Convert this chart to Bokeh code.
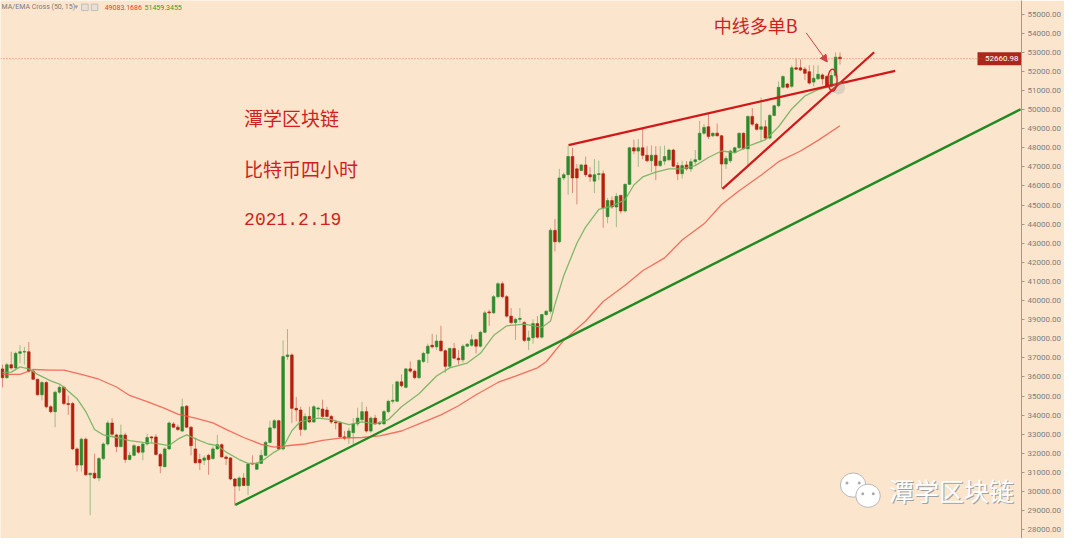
from bokeh.plotting import figure
from bokeh.models import (Range1d, FixedTicker, NumeralTickFormatter, Label, Span,
                          Arrow, NormalHead, ColumnDataSource)
from bokeh.embed import file_html
from bokeh.resources import INLINE

# ---------------- data (BTC 4h candles) ----------------
opens = [36420, 35962, 36640, 36471, 37234, 37300, 37318, 36301, 35878, 35064,
         35708, 34437, 34183, 35200, 35454, 34606, 34606, 32233, 31386, 32742,
         30877, 30962, 30708, 31725, 32488, 33589, 32962, 32352, 32962, 31674,
         31894, 32352, 32064, 32488, 32860, 32860, 31945, 31301, 32233, 33538,
         33369, 33166, 34471, 33369, 32233, 31674, 31640, 31894, 31725, 32233,
         32454, 31810, 31759, 30657, 30284, 30708, 30318, 31471, 31166, 31471,
         31894, 32572, 33335, 33708, 32233, 37067, 37151, 34355, 34270, 33253,
         33931, 33643, 34321, 34321, 34270, 33931, 33643, 33592, 32863, 32829,
         33084, 33541, 33761, 34185, 33168, 33846, 33541, 33541, 34185, 34727,
         34727, 35744, 35456, 36422, 36304, 35965, 36812, 37236, 37660, 37575,
         37880, 37372, 36558, 37490, 36982, 36897, 37609, 37660, 37948, 37609,
         38338, 39405, 39354, 40201, 40879, 40201, 39184, 38845, 39015, 38845,
         37913, 38049, 38794, 38082, 39269, 39438, 43675, 43081, 46420, 46590,
         47539, 46895, 46810, 47098, 46590, 46251, 46600, 46641, 44386, 45234,
         44895, 45505, 44692, 46082, 47997, 47827, 47997, 47607, 47319, 47607,
         47064, 47300, 47370, 47878, 47064, 46641, 47098, 46895, 47268, 47370,
         48760, 49099, 48624, 48760, 48624, 47148, 47317, 47742, 47996, 48758,
         47945, 49640, 49233, 48962, 49097, 48504, 49691, 50199, 51165, 51335,
         51216, 52182, 52182, 52115, 51979, 51437, 51606, 51810, 51725, 51216,
         51776, 52742]
highs = [36640, 36725, 37318, 37318, 37657, 37572, 37827, 36386, 35911, 35793,
         35793, 34522, 35284, 35572, 35539, 35030, 34691, 32318, 32826, 32826,
         30962, 31979, 31810, 32572, 33708, 33844, 33030, 33505, 33081, 32064,
         32488, 32403, 32572, 33030, 32911, 32996, 32013, 32318, 33674, 33640,
         33505, 34861, 34522, 33420, 32826, 31979, 31894, 31979, 32352, 32962,
         32521, 31894, 31810, 30708, 30793, 30962, 31504, 31894, 31555, 32182,
         32657, 33708, 33793, 33759, 37914, 38507, 37236, 34948, 34439, 34100,
         34439, 34524, 34439, 34812, 34439, 34016, 33761, 33677, 33168, 33338,
         33846, 34388, 34693, 34439, 33931, 34016, 33677, 34270, 34812, 35626,
         35795, 36134, 36473, 36812, 36389, 36931, 37321, 37744, 38253, 38219,
         38677, 37439, 37541, 37778, 37405, 37711, 37780, 38219, 38009, 38423,
         39472, 39523, 40286, 40964, 41000, 40286, 39608, 39099, 39608, 38930,
         38422, 39015, 39184, 39300, 39500, 43800, 44268, 46895, 46700, 48082,
         47997, 47149, 47150, 47539, 46980, 47404, 47319, 46810, 45369, 45454,
         45624, 45539, 46132, 48046, 48420, 48454, 49014, 48082, 48116, 48082,
         48082, 48116, 47950, 47946, 47234, 47319, 47300, 47438, 47880, 49404,
         49234, 49777, 48800, 49268, 48675, 47572, 47900, 48050, 48800, 48800,
         49691, 50081, 49300, 50623, 49436, 49775, 50250, 51470, 51800, 51400,
         52318, 52657, 52623, 52233, 52318, 52318, 52318, 51894, 51800, 51979,
         52996, 52996]
lows = [35454, 35911, 36386, 36420, 36725, 36640, 36217, 35850, 35030, 34776,
        34352, 34098, 33369, 35115, 34522, 34013, 32182, 31047, 31047, 30826,
        28759, 30657, 30538, 31640, 32403, 32911, 32064, 32318, 31504, 31640,
        31844, 31979, 31640, 32403, 32572, 31894, 30962, 31267, 32182, 33335,
        33166, 33115, 33335, 31894, 31471, 31132, 31386, 30877, 31674, 32182,
        31776, 31386, 30589, 29267, 30030, 30284, 29809, 31386, 31132, 31437,
        31844, 32521, 33250, 32182, 32149, 36900, 33592, 33677, 32914, 33168,
        33592, 33592, 33931, 33846, 33880, 33541, 33253, 32829, 32693, 32490,
        32490, 33422, 33677, 33084, 33084, 33507, 33480, 33507, 34100, 34609,
        34693, 35456, 35405, 36219, 35880, 35880, 36728, 36728, 37490, 37405,
        37321, 36219, 36473, 36931, 36643, 36745, 37560, 37575, 37236, 37541,
        38286, 38676, 39300, 40117, 40117, 39099, 38761, 37947, 38845, 37828,
        37404, 37743, 37998, 37998, 39200, 39300, 42573, 42997, 46300, 45539,
        45624, 45031, 46750, 46471, 46217, 45624, 46302, 43810, 44047, 44800,
        43844, 44556, 44607, 46048, 47658, 47000, 47400, 47234, 46725, 46302,
        47000, 47100, 47300, 46980, 46302, 46386, 46800, 46725, 47100, 47319,
        48675, 48454, 48550, 48590, 45877, 46894, 47200, 47700, 47950, 47900,
        47064, 49131, 48900, 48300, 48419, 48419, 49650, 50115, 51100, 51100,
        51132, 52064, 52013, 51555, 51301, 51216, 51555, 51301, 51150, 51132,
        51640, 52352]
closes = [35962, 36640, 36471, 37234, 37318, 37330, 36301, 35878, 35064, 35708,
          34437, 34183, 35200, 35454, 34606, 34555, 32233, 31386, 32742, 30877,
          30962, 30708, 31725, 32488, 33589, 33000, 32352, 32962, 31674, 31894,
          32403, 32064, 32488, 32826, 32809, 31945, 31335, 32233, 33589, 33369,
          33250, 34437, 33369, 32403, 31504, 31504, 31759, 31674, 32233, 32454,
          31810, 31725, 30657, 30284, 30708, 30318, 31437, 31437, 31471, 31894,
          32572, 33335, 33708, 32233, 37067, 37151, 34355, 34270, 33253, 33931,
          33643, 34439, 34370, 33931, 33931, 33643, 33592, 32863, 32795, 33168,
          33541, 33846, 34185, 33168, 33846, 33541, 33592, 34185, 34727, 34778,
          35744, 35541, 36422, 36304, 35965, 36863, 37236, 37609, 37575, 37880,
          37372, 36558, 37490, 36982, 36897, 37609, 37711, 37948, 37609, 38338,
          39354, 39354, 40201, 40879, 40201, 39184, 38845, 39015, 39066, 37913,
          38049, 38794, 38082, 39269, 39438, 43675, 43081, 46420, 46590, 47539,
          46420, 46420, 47098, 46590, 46471, 46590, 46641, 44861, 45234, 44895,
          45454, 44692, 46082, 47997, 47827, 47997, 47600, 47319, 47607, 47064,
          47300, 47539, 47878, 47031, 46641, 47064, 46895, 47268, 47370, 48760,
          49065, 48590, 48760, 48624, 47148, 47436, 47826, 47996, 48758, 47945,
          49640, 49233, 48962, 49097, 48504, 49691, 50199, 51165, 51725, 51165,
          52182, 52115, 52064, 51894, 51386, 51640, 51843, 51606, 51216, 51776,
          52742, 52661]

# moving averages (candle index, price)
ma50_idx = [0, 4, 7, 11, 14, 18, 22, 26, 29, 33, 37, 40, 44, 48, 51, 55, 59, 62, 66, 69,
            73, 77, 82, 86, 91, 95, 100, 104, 108, 113, 117, 122, 124, 128, 133, 137, 142,
            146, 151, 155, 160, 164, 168, 173, 177, 182, 186, 191]
ma50 = [36134, 36134, 36389, 36353, 36353, 36134, 35880, 35474, 35031, 34711, 34355,
        34050, 33847, 33592, 33252, 32830, 32474, 32321, 32423, 32489, 32677, 32794,
        32830, 32916, 33170, 33542, 34014, 34492, 35067, 35712, 36048, 36475, 36795,
        37914, 38931, 39947, 40797, 41559, 42235, 43166, 44015, 45031, 45743, 46557,
        47269, 47828, 48387, 49149]
ema15_idx = [0, 2, 4, 6, 8, 11, 13, 14, 17, 19, 21, 23, 26, 29, 32, 35, 38, 40, 42, 45,
             47, 49, 51, 54, 56, 58, 60, 62, 64, 66, 68, 72, 75, 79, 82, 85, 88, 91, 95, 99,
             102, 106, 109, 112, 115, 119, 123, 125, 126, 128, 131, 133, 136, 139, 142, 144,
             146, 149, 152, 155, 158, 161, 164, 167, 171, 174, 177, 180, 183, 186, 189, 191]
ema15 = [36221, 36251, 36526, 36424, 36134, 35794, 35626, 35458, 34863, 34187, 33252,
         32967, 32830, 32662, 32576, 32525, 32408, 32743, 32967, 32662, 32489, 32408,
         32067, 31676, 31472, 31472, 31727, 32067, 32321, 33186, 33679, 33847, 33760,
         33506, 33643, 33542, 33760, 34441, 35118, 36048, 36475, 36729, 37238, 38168,
         38676, 38763, 38590, 38931, 39800, 41300, 43000, 43847, 44777, 44945, 45286,
         46048, 46470, 46724, 46897, 46897, 47065, 47487, 47828, 47741, 48168, 48422,
         49099, 50029, 50710, 51046, 51219, 51437]
ma50_last = 49083.1686
ema15_last = 51459.3455
last_price = 52660.98

price_ticks = [28000, 29000, 30000, 31000, 32000, 33000, 34000, 35000, 36000, 37000,
               38000, 39000, 40000, 41000, 42000, 43000, 44000, 45000, 46000, 47000,
               48000, 49000, 50000, 51000, 52000, 53000, 54000, 55000]

# hand-drawn trend lines (candle index, price)
green_trend_idx = [53.1, 232.2]
green_trend_val = [29300, 50014]
red_upper_idx = [129.1, 203.6]
red_upper_val = [48133, 52022]
red_lower_idx = [164.2, 198.8]
red_lower_val = [45845, 52998]
circle_idx = [189.3]
circle_val = [51540]

title_lines = ["潭学区块链", "比特币四小时", "2021.2.19"]
note_text = "中线多单B"
indicator_name = "MA/EMA Cross (50, 15)"
watermark = "潭学区块链"

# ---------------- styling ----------------
BG = "#fce5cd"
GREEN = "#2f8a2c"
RED = "#b3200e"
TXT_RED = "#cf1f1f"
CJK = "Noto Sans CJK SC"
X_END = 232.4

n = len(closes)
idx = list(range(n))
cols = [GREEN if c >= o else RED for o, c in zip(opens, closes)]
src = ColumnDataSource(dict(
    x=idx, o=opens, h=highs, l=lows, c=closes,
    top=[max(o, c) for o, c in zip(opens, closes)],
    bot=[min(o, c) for o, c in zip(opens, closes)],
    col=cols))

p = figure(width=1064, height=538, x_range=Range1d(-0.45, X_END),
           y_range=Range1d(27542, 55708), x_axis_location=None,
           y_axis_location="right", output_backend="svg", toolbar_location=None,
           background_fill_color=BG, border_fill_color=BG, min_border=0,
           outline_line_color=None)
p.grid.visible = False
ax = p.yaxis[0]
ax.ticker = FixedTicker(ticks=price_ticks)
ax.formatter = NumeralTickFormatter(format="0.00")
ax.major_label_text_font_size = "8px"
ax.major_label_text_font = "Roboto"
ax.major_label_text_color = "#7d7d7d"
ax.axis_line_color = "#9a9a9a"
ax.major_tick_line_color = "#9a9a9a"
ax.major_tick_out = 3
ax.major_tick_in = 0
ax.minor_tick_line_color = None
ax.major_label_standoff = 3

# last price dotted line
p.add_layout(Span(location=last_price, dimension="width", line_color="#d05040",
                  line_dash="1 2", line_width=1, line_alpha=0.8))

# candles
p.segment(x0="x", y0="l", x1="x", y1="h", line_color="col", line_alpha=0.45,
          line_width=1, source=src)
p.vbar(x="x", width=0.62, top="top", bottom="bot", fill_color="col",
       line_color="col", line_width=0.6, source=src)

# moving averages
p.line(ma50_idx, ma50, line_color="#f25a4a", line_width=1.3, line_alpha=0.85)
p.line(ema15_idx, ema15, line_color="#72b35f", line_width=1.3, line_alpha=0.9)

# trend lines
p.line(green_trend_idx, green_trend_val, line_color="#1f8a1f", line_width=2.4)
p.line(red_upper_idx, red_upper_val, line_color="#d01818", line_width=2.2)
p.line(red_lower_idx, red_lower_val, line_color="#d01818", line_width=2.2)

# circle marker + cursor blob
p.scatter([190.7], [51133], size=13, fill_color="#9a9a9a", fill_alpha=0.3,
          line_color=None)
p.ellipse(x=circle_idx, y=circle_val, width=2.1, height=1150, fill_color=None,
          line_color="#d42020", line_width=1.4)

# arrow + note
p.add_layout(Arrow(end=NormalHead(size=7, fill_color="#d04040", line_color="#d04040"),
                   x_start=183.3, y_start=54015, x_end=188.1, y_end=52490,
                   line_color="#d04040", line_width=1))
p.add_layout(Label(x=162.2, y=54437, text=note_text, text_font=CJK,
                   text_font_size="18px", text_color=TXT_RED, text_baseline="middle"))

# title block
p.add_layout(Label(x=55.1, y=49582, text=title_lines[0], text_font=CJK,
                   text_font_size="19px", text_color=TXT_RED, text_baseline="middle"))
p.add_layout(Label(x=55.1, y=46938, text=title_lines[1], text_font=CJK,
                   text_font_size="19px", text_color=TXT_RED, text_baseline="middle"))
p.add_layout(Label(x=55.1, y=44269, text=title_lines[2], text_font="Liberation Mono",
                   text_font_size="18px", text_color=TXT_RED, text_baseline="middle"))

# indicator legend (top-left)
p.add_layout(Label(x=-0.2, y=55350, text=indicator_name, text_font="Roboto",
                   text_font_size="7px", text_color="#7a7a7a", text_baseline="middle"))
p.add_layout(Label(x=16.4, y=55350, text="▾", text_font="DejaVu Sans",
                   text_font_size="7px", text_color="#a0a0a0", text_baseline="middle"))
p.rect([18.8, 21.0], [55350, 55350], width=1.5, height=340, fill_color="#e8e0d6",
       line_color="#bdbdbd", line_width=1)
p.add_layout(Label(x=23.3, y=55350, text=f"{ma50_last:.4f}", text_font="Roboto",
                   text_font_size="7px", text_color="#e83a30", text_baseline="middle"))
p.add_layout(Label(x=32.4, y=55350, text=f"{ema15_last:.4f}", text_font="Roboto",
                   text_font_size="7px", text_color="#2f9a2f", text_baseline="middle"))

# last price tag at the right edge of the plot
p.rect(x=[X_END], y=[last_price], width=88, height=13, width_units="screen",
       height_units="screen", fill_color="#a9281a", line_color=None)
p.add_layout(Label(x=X_END, y=last_price, text=f"{last_price:.2f}", text_font="Roboto",
                   text_font_size="8px", text_color="white", text_baseline="middle",
                   text_align="right", x_offset=-3))

# watermark (WeChat-style icon + name)
p.ellipse(x=[194.0], y=[30339], width=5.8, height=1270, fill_color="white",
          line_color="#b8b8b8", line_width=1)
p.ellipse(x=[197.4], y=[29779], width=5.6, height=1220, fill_color="white",
          line_color="#b8b8b8", line_width=1)
p.scatter([192.6, 195.4, 196.2, 198.6], [30450, 30450, 29880, 29880], size=3,
          fill_color="#aaaaaa", line_color=None)
p.add_layout(Label(x=202.2, y=30084, text=watermark, text_font=CJK,
                   text_font_size="25px", text_color="#a0a0a0", text_baseline="middle",
                   x_offset=1, y_offset=-1))
p.add_layout(Label(x=202.2, y=30084, text=watermark, text_font=CJK,
                   text_font_size="25px", text_color="white", text_baseline="middle"))

open("out.html", "w").write(file_html(p, INLINE))
